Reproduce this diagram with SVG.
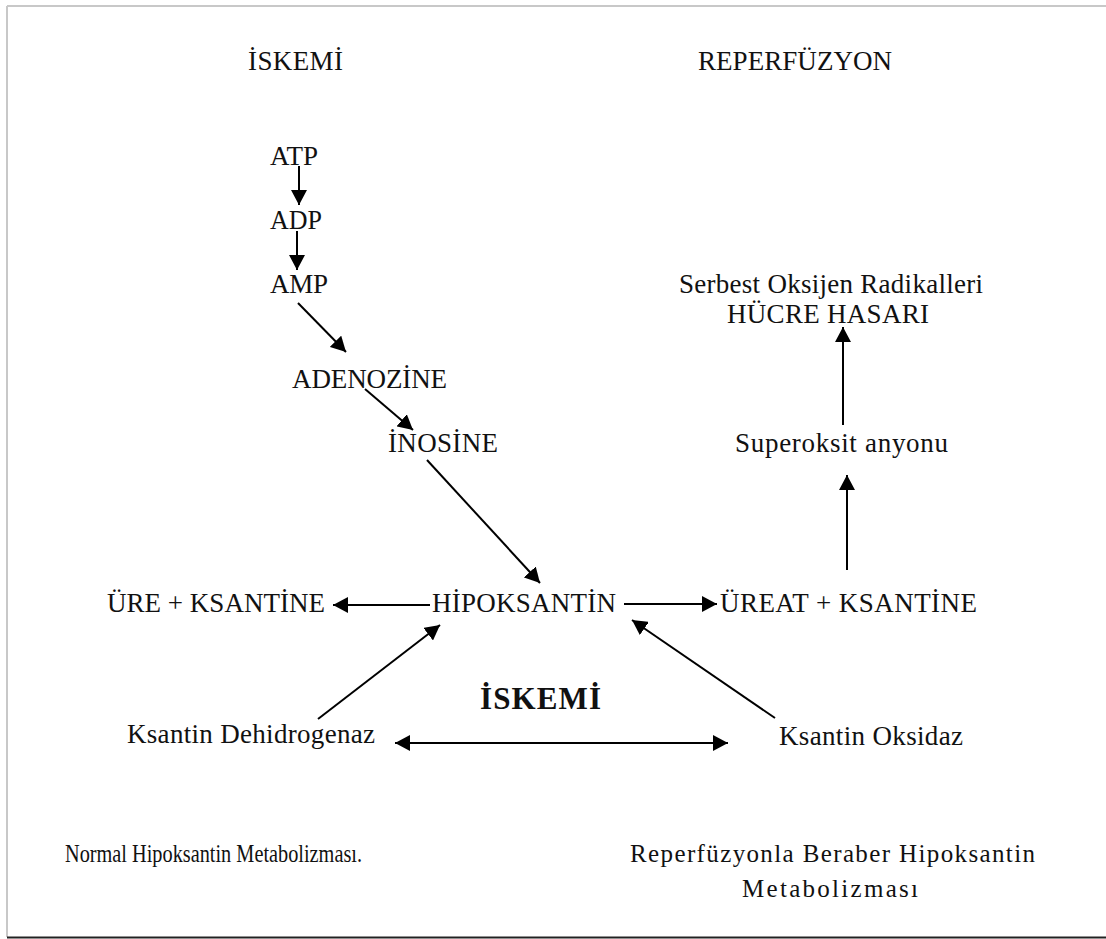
<svg xmlns="http://www.w3.org/2000/svg" width="1106" height="939" viewBox="0 0 1106 939">
<style>
  text { font-family: "Liberation Serif", "Times New Roman", serif; font-size: 27px; fill: #111; }
  .cap { font-size: 25px; }
  .bold { font-weight: bold; font-size: 31px; }
  .ln { stroke: #000; stroke-width: 2; fill: none; }
</style>
<defs>
  <marker id="ah" markerWidth="8" markerHeight="8" refX="7.5" refY="4" orient="auto" markerUnits="strokeWidth">
    <path d="M0,0 L7.5,4 L0,8 Z" fill="#000"/>
  </marker>
  <marker id="ahs" markerWidth="8" markerHeight="8" refX="0" refY="4" orient="auto" markerUnits="strokeWidth">
    <path d="M7.5,0 L0,4 L7.5,8 Z" fill="#000"/>
  </marker>
</defs>
<rect width="1106" height="939" fill="#fff"/>
<g id="frame">
  <line x1="7" y1="6" x2="1106" y2="6" stroke="#c8c8c8" stroke-width="2"/>
  <line x1="7" y1="6" x2="7" y2="937" stroke="#c8c8c8" stroke-width="2"/>
  <line x1="7" y1="937.5" x2="1106" y2="937.5" stroke="#222" stroke-width="2"/>
</g>
<g id="titles">
  <text x="248" y="70" textLength="95" lengthAdjust="spacing">İSKEMİ</text>
  <text x="698" y="70" textLength="194" lengthAdjust="spacing">REPERFÜZYON</text>
</g>
<g id="n-atp"><text x="270" y="165" textLength="48" lengthAdjust="spacingAndGlyphs">ATP</text></g>
<g id="n-adp"><text x="270" y="229" textLength="52" lengthAdjust="spacingAndGlyphs">ADP</text></g>
<g id="n-amp"><text x="270" y="293" textLength="58" lengthAdjust="spacing">AMP</text></g>
<g id="n-adenozine"><text x="292" y="388" textLength="155" lengthAdjust="spacing">ADENOZİNE</text></g>
<g id="n-inosine"><text x="388" y="452" textLength="110" lengthAdjust="spacing">İNOSİNE</text></g>
<g id="n-hipoksantin"><text x="432" y="612" textLength="184" lengthAdjust="spacing">HİPOKSANTİN</text></g>
<g id="n-ure"><text x="107" y="612" textLength="218" lengthAdjust="spacing">ÜRE + KSANTİNE</text></g>
<g id="n-ureat"><text x="720" y="612" textLength="257" lengthAdjust="spacing">ÜREAT + KSANTİNE</text></g>
<g id="n-serbest">
  <text x="679" y="293" textLength="304" lengthAdjust="spacing">Serbest Oksijen Radikalleri</text>
  <text x="727" y="323" textLength="202" lengthAdjust="spacing">HÜCRE HASARI</text>
</g>
<g id="n-superoksit"><text x="735" y="452" textLength="213" lengthAdjust="spacing">Superoksit anyonu</text></g>
<g id="n-iskemi"><text class="bold" x="480" y="709" textLength="121" lengthAdjust="spacing">İSKEMİ</text></g>
<g id="n-kd"><text x="127" y="743" textLength="248" lengthAdjust="spacing">Ksantin Dehidrogenaz</text></g>
<g id="n-ko"><text x="779" y="745" textLength="184" lengthAdjust="spacing">Ksantin Oksidaz</text></g>
<g id="captions">
  <text class="cap" x="65" y="862" textLength="297" lengthAdjust="spacingAndGlyphs">Normal Hipoksantin Metabolizması.</text>
  <text class="cap" x="630" y="862" textLength="405" lengthAdjust="spacing">Reperfüzyonla Beraber Hipoksantin</text>
  <text class="cap" x="742" y="897" textLength="176" lengthAdjust="spacing">Metabolizması</text>
</g>
<g id="connectors">
  <line class="ln" x1="299" y1="166" x2="299" y2="205" marker-end="url(#ah)"/>
  <line class="ln" x1="297" y1="231" x2="297" y2="270" marker-end="url(#ah)"/>
  <line class="ln" x1="298" y1="303" x2="346" y2="352" marker-end="url(#ah)"/>
  <line class="ln" x1="365" y1="389" x2="413" y2="430" marker-end="url(#ah)"/>
  <line class="ln" x1="427" y1="460" x2="540" y2="583" marker-end="url(#ah)"/>
  <line class="ln" x1="430" y1="605" x2="333" y2="605" marker-end="url(#ah)"/>
  <line class="ln" x1="624" y1="604" x2="717" y2="604" marker-end="url(#ah)"/>
  <line class="ln" x1="318" y1="719" x2="440" y2="625" marker-end="url(#ah)"/>
  <line class="ln" x1="775" y1="718" x2="632" y2="620" marker-end="url(#ah)"/>
  <line class="ln" x1="395" y1="743" x2="728" y2="743" marker-start="url(#ahs)" marker-end="url(#ah)"/>
  <line class="ln" x1="847" y1="570" x2="847" y2="475" marker-end="url(#ah)"/>
  <line class="ln" x1="843" y1="425" x2="843" y2="327" marker-end="url(#ah)"/>
</g>
</svg>
